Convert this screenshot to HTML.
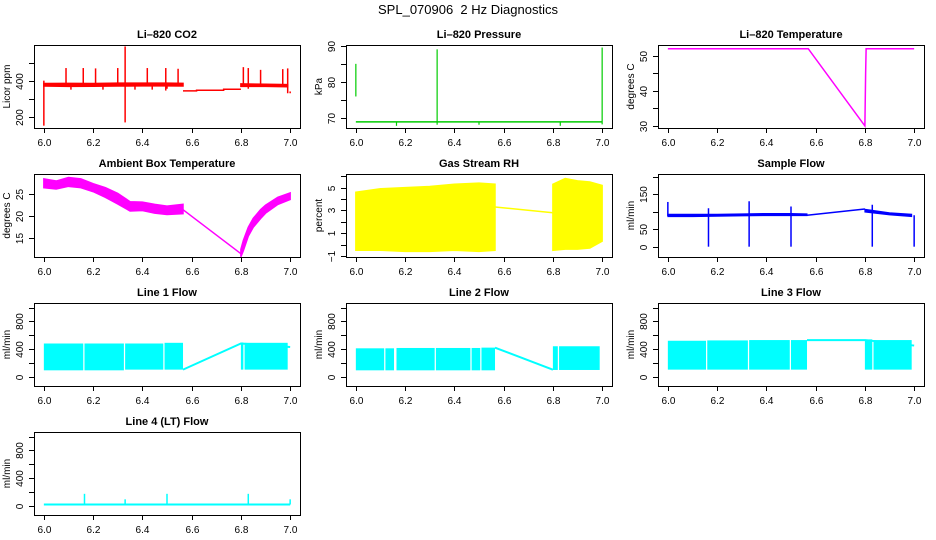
<!DOCTYPE html>
<html><head><meta charset="utf-8"><style>
html,body{margin:0;padding:0;background:#fff;}
svg{display:block;font-family:"Liberation Sans",sans-serif;}
</style></head><body>
<svg id="chart" width="936" height="540" viewBox="0 0 936 540">
<text x="468" y="14" text-anchor="middle" font-size="13">SPL_070906&#160; 2 Hz Diagnostics</text>
</svg>
<script>
// ---- data (time in days, values per panel) ----
const xTicks = [6.0, 6.2, 6.4, 6.6, 6.8, 7.0];
const xTickLabels = ["6.0", "6.2", "6.4", "6.6", "6.8", "7.0"];

// CO2
const co2BandX  = [6.0, 6.1, 6.2, 6.3, 6.4, 6.5, 6.565];
const co2BandLo = [370, 368, 369, 370, 371, 371, 370];
const co2BandHi = [384, 385, 384, 386, 386, 386, 385];
const co2MidX = [6.565, 6.62, 6.62, 6.73, 6.73, 6.80];
const co2MidY = [343, 343, 347, 347, 352, 352];
const co2Band2X  = [6.80, 6.9, 6.99];
const co2Band2Lo = [368, 368, 366];
const co2Band2Hi = [382, 380, 378];
const co2SpikeX  = [6.0, 6.09, 6.16, 6.21, 6.30, 6.33, 6.42, 6.495, 6.545, 6.81, 6.83, 6.88, 6.97, 6.99, 7.0, 6.11, 6.24, 6.37, 6.44, 6.5];
const co2SpikeLo = [150, 376, 376, 376, 376, 168, 376, 345, 376, 376, 355, 376, 376, 330, 330, 350, 350, 350, 350, 355];
const co2SpikeHi = [400, 470, 470, 468, 470, 590, 470, 470, 466, 475, 470, 460, 464, 468, 340, 376, 376, 376, 376, 376];

// Pressure
const presX = [6.0, 7.0];
const presY = [69.0, 69.0];
const presSpikeX  = [6.0, 6.33, 7.0, 6.165, 6.5, 6.83];
const presSpikeLo = [76, 68.2, 68.3, 67.9, 68.2, 67.9];
const presSpikeHi = [85, 89, 89.5, 69, 69, 69];

// Li-820 temperature
const tempX = [6.0, 6.57, 6.80, 6.803, 6.805, 7.0];
const tempY = [52, 52, 30, 45, 52, 52];

// Ambient box temperature
const ambX  = [6.0, 6.05, 6.1, 6.15, 6.2, 6.25, 6.3, 6.35, 6.4, 6.45, 6.5, 6.565];
const ambLo = [26.5, 26.2, 26.8, 26.5, 25.6, 24.3, 22.8, 21.2, 21.3, 20.7, 20.4, 20.6];
const ambHi = [28.5, 28.0, 28.8, 28.5, 27.4, 26.5, 25.2, 23.3, 23.2, 22.7, 22.3, 22.7];
const ambLineX = [6.565, 6.80];
const ambLineY = [21.5, 11.5];
const amb2X  = [6.80, 6.81, 6.83, 6.85, 6.88, 6.9, 6.95, 7.0];
const amb2Lo = [10.8, 12.2, 15.5, 17.5, 19.5, 20.7, 22.7, 23.8];
const amb2Hi = [12.5, 14.5, 17.5, 19.5, 21.5, 22.5, 24.3, 25.3];

// Gas stream RH
const rhX  = [6.0, 6.1, 6.2, 6.3, 6.4, 6.5, 6.565];
const rhLo = [-0.5, -0.5, -0.6, -0.6, -0.5, -0.6, -0.5];
const rhHi = [4.6, 4.9, 5.0, 5.1, 5.3, 5.4, 5.3];
const rhLineX = [6.565, 6.80];
const rhLineY = [3.3, 2.8];
const rh2X  = [6.80, 6.85, 6.9, 6.95, 7.0];
const rh2Lo = [-0.5, -0.4, -0.4, -0.3, 0.3];
const rh2Hi = [5.3, 5.8, 5.6, 5.5, 5.2];

// Sample flow
const sfX  = [6.0, 6.1, 6.2, 6.3, 6.4, 6.5, 6.565];
const sfLo = [86, 86, 87, 88, 89, 89, 89];
const sfHi = [93, 93, 93, 94, 95, 95, 94];
const sfLineX = [6.565, 6.80];
const sfLineY = [90, 108];
const sf2X  = [6.80, 6.9, 6.99];
const sf2Lo = [99, 91, 86];
const sf2Hi = [107, 97, 93];
const sfSpikeX  = [6.0, 6.165, 6.33, 6.5, 6.83, 7.0];
const sfSpikeLo = [88, 0, 0, 0, 0, 0];
const sfSpikeHi = [128, 110, 130, 115, 120, 90];

// Line 1-3 flows: bands [x0, x1] with lo / hi
const l1BandX0 = [6.0, 6.165, 6.33, 6.49, 6.80, 6.815];
const l1BandX1 = [6.16, 6.325, 6.485, 6.565, 6.81, 6.99];
const l1BandLo = [90, 90, 100, 100, 100, 100];
const l1BandHi = [480, 480, 480, 490, 495, 490];
const l1LineX = [6.565, 6.80, 7.0, 7.0];
const l1LineY = [100, 480, 430, 430];

const l2BandX0 = [6.0, 6.12, 6.165, 6.325, 6.47, 6.51, 6.80, 6.825];
const l2BandX1 = [6.115, 6.155, 6.32, 6.465, 6.505, 6.565, 6.82, 6.99];
const l2BandLo = [90, 90, 90, 90, 90, 90, 95, 95];
const l2BandHi = [410, 410, 415, 415, 415, 420, 440, 440];
const l2LineX = [6.565, 6.80];
const l2LineY = [420, 100];

const l3BandX0 = [6.0, 6.16, 6.33, 6.50, 6.80, 6.835];
const l3BandX1 = [6.155, 6.325, 6.495, 6.565, 6.83, 6.99];
const l3BandLo = [100, 100, 100, 100, 100, 100];
const l3BandHi = [520, 525, 530, 530, 540, 530];
const l3LineX = [6.565, 6.80, 7.0];
const l3LineY = [530, 530, 450];

// Line 4 flow
const l4X = [6.0, 7.0];
const l4Y = [15, 15];
const l4SpikeX = [6.165, 6.33, 6.5, 6.83, 7.0];
const l4SpikeHi = [170, 90, 170, 170, 90];

// ---- layout ----
const NS = "http://www.w3.org/2000/svg";
const svg = document.getElementById("chart");
const colLeft = [34, 346, 658], rowTop = [45, 174, 303, 432], W = 266, H = 83;

function mk(tag, attrs, parent) {
  const e = document.createElementNS(NS, tag);
  for (const k in attrs) e.setAttribute(k, attrs[k]);
  (parent || svg).appendChild(e);
  return e;
}

function panel(cfg) {
  const g = mk("g", {});
  
  
  const L = colLeft[cfg.col], T = rowTop[cfg.row];
  const p = {
    L, T,
    x: v => L + 9.85 + (v - 6) * 246.3,
    y: v => T + (cfg.yhi - v) / (cfg.yhi - cfg.ylo) * H,
    g
  };
  const box = mk("rect", {x: L + 0.5, y: T + 0.5, width: W, height: H, fill: "none", stroke: "#000", "stroke-width": 1}, g);
  
  
  const t = mk("text", {x: L + W / 2, y: T - 7, "text-anchor": "middle", "font-size": 11, "font-weight": "bold"}, g);
  t.textContent = cfg.title;
  
  
  xTicks.forEach((v, i) => {
    const X = Math.round(p.x(v)) + 0.5;
    const tk = mk("line", {x1: X, x2: X, y1: T + H, y2: T + H + 5, stroke: "#000"}, g);
    
    
    const lb = mk("text", {x: X, y: T + H + 18, "text-anchor": "middle", "font-size": 10}, g);
    lb.textContent = xTickLabels[i];
    
    
  });
  cfg.yticks.forEach((v, i) => {
    const Y = Math.round(p.y(v)) + 0.5;
    const tk = mk("line", {x1: L - 5, x2: L, y1: Y, y2: Y, stroke: "#000"}, g);
    
    
    if (cfg.ylabels[i]) {
      const lb = mk("text", {x: 0, y: 0, "text-anchor": "middle", "font-size": 10, transform: `translate(${L - 11},${Y}) rotate(-90)`}, g);
      lb.textContent = cfg.ylabels[i];
      
      
    }
  });
  const yl = mk("text", {x: 0, y: 0, "text-anchor": "middle", "font-size": 10, transform: `translate(${L - 24},${T + H / 2}) rotate(-90)`}, g);
  yl.textContent = cfg.ylab;
  
  
  return p;
}

function band(p, xs, lo, hi, color, sw) {
  let pts = xs.map((x, i) => p.x(x) + "," + p.y(hi[i]));
  for (let i = xs.length - 1; i >= 0; i--) pts.push(p.x(xs[i]) + "," + p.y(lo[i]));
  const e = mk("polygon", {points: pts.join(" "), fill: color, stroke: color, "stroke-width": sw === undefined ? 1.5 : sw}, p.g);
  
  
}
function line(p, xs, ys, color, w) {
  const e = mk("polyline", {points: xs.map((x, i) => p.x(x) + "," + p.y(ys[i])).join(" "), fill: "none", stroke: color, "stroke-width": w || 1.5}, p.g);
  
  
}
function spikes(p, xs, lo, hi, color, w) {
  xs.forEach((x, i) => {
    const e = mk("line", {x1: p.x(x), x2: p.x(x), y1: p.y(lo[i]), y2: p.y(hi[i]), stroke: color, "stroke-width": w || 1.5}, p.g);
    
    
  });
}
function rects(p, x0, x1, lo, hi, color) {
  x0.forEach((x, i) => {
    const e = mk("rect", {x: p.x(x), y: p.y(hi[i]), width: p.x(x1[i]) - p.x(x), height: p.y(lo[i]) - p.y(hi[i]), fill: color}, p.g);
    
    
  });
}

// Panels
const flowTicks = [0, 200, 400, 600, 800, 1000], flowLabels = ["0", "", "400", "", "800", ""];

let p = panel({name: "co2-panel", title: "Li\u2013820 CO2", ylab: "Licor ppm", col: 0, row: 0, ylo: 137, yhi: 598, yticks: [200, 300, 400, 500], ylabels: ["200", "", "400", ""]});
band(p, co2BandX, co2BandLo, co2BandHi, "#ff0000");
line(p, co2MidX, co2MidY, "#ff0000");
band(p, co2Band2X, co2Band2Lo, co2Band2Hi, "#ff0000");
spikes(p, co2SpikeX, co2SpikeLo, co2SpikeHi, "#ff0000");

p = panel({name: "pressure-panel", title: "Li\u2013820 Pressure", ylab: "kPa", col: 1, row: 0, ylo: 67.3, yhi: 90.2, yticks: [70, 75, 80, 85, 90], ylabels: ["70", "", "80", "", "90"]});
line(p, presX, presY, "#00cc00");
spikes(p, presSpikeX, presSpikeLo, presSpikeHi, "#00cc00", 1.2);

p = panel({name: "li820-temperature-panel", title: "Li\u2013820 Temperature", ylab: "degrees C", col: 2, row: 0, ylo: 29.4, yhi: 53.06, yticks: [30, 35, 40, 45, 50], ylabels: ["30", "", "40", "", "50"]});
line(p, tempX, tempY, "#ff00ff");

p = panel({name: "ambient-temperature-panel", title: "Ambient Box Temperature", ylab: "degrees C", col: 0, row: 1, ylo: 10.75, yhi: 29.6, yticks: [15, 20, 25], ylabels: ["15", "20", "25"]});
band(p, ambX, ambLo, ambHi, "#ff00ff");
line(p, ambLineX, ambLineY, "#ff00ff");
band(p, amb2X, amb2Lo, amb2Hi, "#ff00ff");

p = panel({name: "rh-panel", title: "Gas Stream RH", ylab: "percent", col: 1, row: 1, ylo: -1.09, yhi: 6.2, yticks: [-1, 0, 1, 2, 3, 4, 5, 6], ylabels: ["\u22121", "", "1", "", "3", "", "5", ""]});
band(p, rhX, rhLo, rhHi, "#ffff00");
line(p, rhLineX, rhLineY, "#ffff00");
band(p, rh2X, rh2Lo, rh2Hi, "#ffff00");

p = panel({name: "sample-flow-panel", title: "Sample Flow", ylab: "ml/min", col: 2, row: 1, ylo: -29.5, yhi: 208, yticks: [0, 50, 100, 150, 200], ylabels: ["0", "50", "", "150", ""]});
band(p, sfX, sfLo, sfHi, "#0000ff", 1);
line(p, sfLineX, sfLineY, "#0000ff");
band(p, sf2X, sf2Lo, sf2Hi, "#0000ff", 1);
spikes(p, sfSpikeX, sfSpikeLo, sfSpikeHi, "#0000ff");

p = panel({name: "line1-flow-panel", title: "Line 1 Flow", ylab: "ml/min", col: 0, row: 2, ylo: -138, yhi: 1069, yticks: flowTicks, ylabels: flowLabels});
rects(p, l1BandX0, l1BandX1, l1BandLo, l1BandHi, "#00ffff");
line(p, l1LineX, l1LineY, "#00ffff", 2);

p = panel({name: "line2-flow-panel", title: "Line 2 Flow", ylab: "ml/min", col: 1, row: 2, ylo: -138, yhi: 1069, yticks: flowTicks, ylabels: flowLabels});
rects(p, l2BandX0, l2BandX1, l2BandLo, l2BandHi, "#00ffff");
line(p, l2LineX, l2LineY, "#00ffff", 2);

p = panel({name: "line3-flow-panel", title: "Line 3 Flow", ylab: "ml/min", col: 2, row: 2, ylo: -138, yhi: 1069, yticks: flowTicks, ylabels: flowLabels});
rects(p, l3BandX0, l3BandX1, l3BandLo, l3BandHi, "#00ffff");
line(p, l3LineX, l3LineY, "#00ffff", 2);

p = panel({name: "line4-flow-panel", title: "Line 4 (LT) Flow", ylab: "ml/min", col: 0, row: 3, ylo: -138, yhi: 1069, yticks: flowTicks, ylabels: flowLabels});
line(p, l4X, l4Y, "#00ffff", 2);
spikes(p, l4SpikeX, l4SpikeX.map(() => 15), l4SpikeHi, "#00ffff");
</script>
</body></html>
